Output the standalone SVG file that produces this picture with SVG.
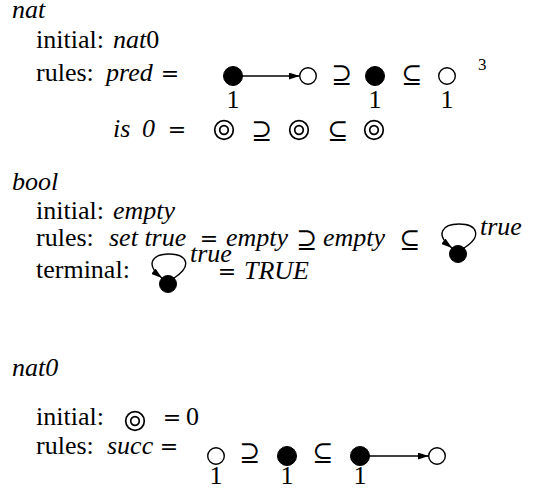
<svg xmlns="http://www.w3.org/2000/svg" width="545" height="490" viewBox="0 0 545 490">
  <style>
    text { font-family: "Liberation Serif", "Times New Roman", serif; font-size: 26px; fill: #000; }
    .it { font-style: italic; }
    .rel { font-family: "DejaVu Serif", serif; font-size: 22px; text-anchor: middle; }
    .set { font-family: "DejaVu Serif", serif; font-size: 25px; text-anchor: middle; }
    .idx { text-anchor: middle; }
    .sup { font-size: 17px; }
    .open { fill: #fff; stroke: #000; stroke-width: 1.4; }
    .full { fill: #000; stroke: #000; stroke-width: 1; }
    .ring { fill: none; stroke: #000; stroke-width: 1.7; }
    .edge { fill: none; stroke: #000; stroke-width: 1.4; }
  </style>
  <defs>
    <marker id="head" viewBox="0 0 11 7" refX="11" refY="3.5" markerWidth="11" markerHeight="7" markerUnits="userSpaceOnUse" orient="auto">
      <path d="M0,0 L11,3.5 L0,7 z" fill="#000"/>
    </marker>
    <g id="dbl">
      <circle class="ring" r="9.3"/>
      <circle class="ring" r="4.3"/>
    </g>
  </defs>

  <rect width="545" height="490" fill="#fff"/>

  <!-- ===== nat ===== -->
  <text class="it" x="12" y="18">nat</text>
  <text x="36" y="48">initial:</text>
  <text x="113" y="48"><tspan class="it">nat</tspan>0</text>

  <text x="36" y="81">rules:</text>
  <text class="it" x="106" y="81">pred</text>
  <text class="rel" x="170" y="81">=</text>
  <g id="pred-lhs-src"><circle class="full" cx="233" cy="76" r="9.5"/><text class="idx" x="233" y="108">1</text></g>
  <g id="pred-lhs-dst"><circle class="open" cx="308" cy="76" r="8.3"/></g>
  <text class="set" x="342" y="83">⊇</text>
  <g id="pred-mid"><circle class="full" cx="375" cy="76" r="9.5"/><text class="idx" x="375" y="108">1</text></g>
  <text class="set" x="412" y="83">⊆</text>
  <g id="pred-rhs"><circle class="open" cx="447" cy="76" r="8.3"/><text class="idx" x="447" y="108">1</text></g>
  <text class="sup" x="478" y="70">3</text>

  <text class="it" x="113" y="137">is</text>
  <text class="it" x="142" y="137">0</text>
  <text class="rel" x="177" y="137">=</text>
  <g id="is0-lhs"><use href="#dbl" x="224" y="130"/></g>
  <text class="set" x="262" y="139">⊇</text>
  <g id="is0-mid"><use href="#dbl" x="299" y="130"/></g>
  <text class="set" x="338" y="139">⊆</text>
  <g id="is0-rhs"><use href="#dbl" x="374" y="130"/></g>

  <!-- ===== bool ===== -->
  <text class="it" x="12" y="190">bool</text>
  <text x="36" y="219">initial:</text>
  <text class="it" x="113" y="219">empty</text>

  <text x="36" y="246">rules:</text>
  <text class="it" x="109" y="246">set true</text>
  <text class="rel" x="209" y="246">=</text>
  <text class="it" x="226" y="246">empty</text>
  <text class="set" x="307" y="248">⊇</text>
  <text class="it" x="323" y="246">empty</text>
  <text class="set" x="410" y="248">⊆</text>
  <g id="settrue-rhs"><circle class="full" cx="458" cy="254" r="8.5"/></g>
  <text class="it" x="480" y="235">true</text>

  <text x="36" y="278">terminal:</text>
  <g id="terminal-node"><circle class="full" cx="168" cy="284" r="8.5"/></g>
  <text class="it" x="190" y="262">true</text>
  <text class="rel" x="227" y="279">=</text>
  <text class="it" x="244" y="279">TRUE</text>

  <!-- ===== nat0 ===== -->
  <text class="it" x="12" y="376">nat0</text>
  <text x="36" y="425">initial:</text>
  <g id="nat0-initial"><use href="#dbl" x="135" y="421"/></g>
  <text class="rel" x="172" y="425">=</text>
  <text x="186" y="425">0</text>

  <text x="36" y="454">rules:</text>
  <text class="it" x="107" y="454">succ</text>
  <text class="rel" x="169" y="454">=</text>
  <g id="succ-lhs"><circle class="open" cx="216" cy="456" r="8.3"/><text class="idx" x="216" y="484">1</text></g>
  <text class="set" x="250" y="461">⊇</text>
  <g id="succ-mid"><circle class="full" cx="287" cy="456" r="9.5"/><text class="idx" x="287" y="484">1</text></g>
  <text class="set" x="323" y="461">⊆</text>
  <g id="succ-rhs-src"><circle class="full" cx="360" cy="456" r="9.5"/><text class="idx" x="360" y="484">1</text></g>
  <g id="succ-rhs-dst"><circle class="open" cx="437" cy="456" r="8.3"/></g>

  <!-- edges and self-loops -->
  <g id="connectors">
    <path class="edge" d="M242,76 L299.7,76" marker-end="url(#head)"/>
    <path class="edge" d="M369,456 L428.7,456" marker-end="url(#head)"/>
    <path class="edge" d="M464,248 C483,236 477,224 459,224 C443,224 434,234 452,248" marker-end="url(#head)"/>
    <path class="edge" d="M174,278 C193,266 187,254 169,254 C153,254 144,264 162,278" marker-end="url(#head)"/>
  </g>
</svg>
